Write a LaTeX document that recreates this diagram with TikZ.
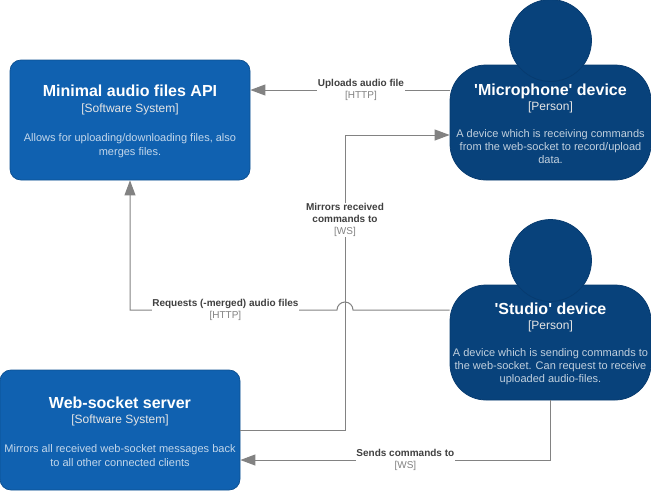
\documentclass[tikz,border=0pt]{standalone}
\usepackage{fontspec}
\setmainfont{Liberation Sans}
\usetikzlibrary{arrows.meta}
\definecolor{systemblue}{HTML}{1061B0}
\definecolor{systemedge}{HTML}{0D5091}
\definecolor{personblue}{HTML}{08427B}
\definecolor{personedge}{HTML}{073B6F}
\definecolor{linegray}{HTML}{828282}
\definecolor{labeltext}{HTML}{404040}
\newcommand{\titlefont}{\fontsize{16}{15.5}\selectfont\bfseries\color{white}}
\newcommand{\typefont}{\fontsize{12}{14.5}\selectfont\mdseries\color{white!90!black}}
\newcommand{\descfont}{\fontsize{11}{14}\selectfont\mdseries}
\newcommand{\linkfont}{\fontsize{10}{12}\selectfont\bfseries}
\newcommand{\linktype}{\fontsize{10}{12}\selectfont\mdseries\color{linegray}}
\tikzstyle{system} = [rectangle, rounded corners=11pt, minimum width=240pt, minimum height=120pt, inner sep=0pt, line width=0.75pt, draw=systemedge, fill=systemblue]
\tikzstyle{systemtext} = [align=center, inner sep=0pt, text=white!75!systemblue, font=\descfont]
\tikzstyle{body} = [rectangle, rounded corners=36pt, minimum width=201pt, minimum height=115pt, inner sep=0pt, line width=0.75pt, draw=personedge, fill=personblue]
\tikzstyle{head} = [circle, minimum size=82pt, inner sep=0pt, line width=0.75pt, draw=personedge, fill=personblue]
\tikzstyle{persontext} = [align=center, inner sep=0pt, text=white!75!personblue, font=\descfont]
\tikzstyle{arrow} = [line width=1pt, draw=linegray, -{Triangle[length=15pt,width=11pt,fill=linegray]}]
\tikzstyle{linklabel} = [fill=white, inner sep=0.5pt, align=center, text=labeltext, font=\linkfont]

\begin{document}
\begin{tikzpicture}[x=1pt, y=-1pt]
        \useasboundingbox (0,0) rectangle (651,491);
        % Nodes
        \node (api) [system] at (130,120) {};
        \node (apiText) [systemtext] at (130,121.5) {\titlefont Minimal audio files API\\[1.5pt]\typefont [Software System]\\[15pt]Allows for uploading/downloading files, also\\merges files.};
        \node (server) [system] at (120,430) {};
        \node (serverText) [systemtext] at (120,431.5) {\titlefont Web-socket server\\[1.5pt]\typefont [Software System]\\[15pt]Mirrors all received web-socket messages back\\to all other connected clients};
        \node (micBody) [body] at (550.5,122.5) {};
        \node (micHead) [head] at (550.5,40.5) {};
        \node (micText) [persontext] at (550.5,124) {\titlefont \textquotesingle Microphone\textquotesingle{} device\\[1pt]\typefont [Person]\\[13pt]A device which is receiving commands\\[-1pt]from the web-socket to record/upload\\[-1pt]data.};
        \node (studioBody) [body] at (550.5,342.5) {};
        \node (studioHead) [head] at (550.5,260.5) {};
        \node (studioText) [persontext] at (550.5,344) {\titlefont \textquotesingle Studio\textquotesingle{} device\\[1pt]\typefont [Person]\\[13pt]A device which is sending commands to\\[-1pt]the web-socket. Can request to receive\\[-1pt]uploaded audio-files.};

        % Helpers
        \coordinate (mirrorTurn) at (server.east -| 345,0);
        \coordinate (micIn) at ([yshift=-12.5pt]micBody.west);
        \coordinate (hop) at (345,310);

        % Arrows
        \draw [arrow] ([yshift=32.5pt]micBody.west) -- node[linklabel, pos=0.445] {Uploads audio file\\\linktype [HTTP]} ([yshift=32.5pt]micBody.west -| api.east);
        \draw [arrow] (server.east) -- (mirrorTurn) -- node[linklabel, pos=0.712] {Mirrors received\\commands to\\\linktype [WS]} (mirrorTurn |- micIn) -- (micIn);
        \draw [arrow] ([yshift=32.5pt]studioBody.west) -- ([xshift=8pt]hop) arc[start angle=0, end angle=180, radius=8pt] -- node[linklabel, pos=0.539] {Requests (-merged) audio files\\\linktype [HTTP]} (hop -| api.south) -- (api.south);
        \draw [arrow] (studioBody.south) |- node[linklabel, pos=0.734] {Sends commands to\\\linktype [WS]} ([yshift=-30pt]server.east);
    \end{tikzpicture}
\end{document}
